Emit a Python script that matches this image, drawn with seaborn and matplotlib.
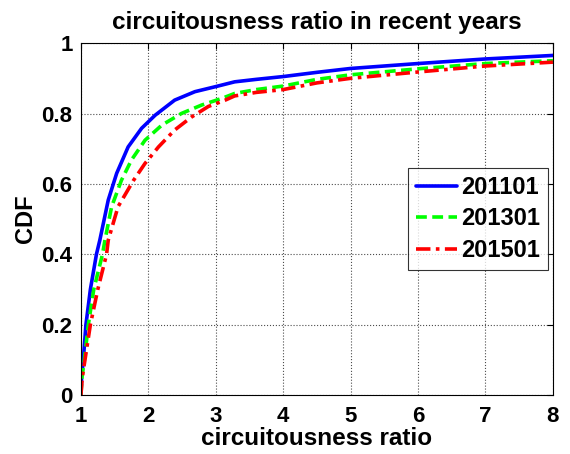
import matplotlib
matplotlib.use("Agg")
import matplotlib.pyplot as plt
import seaborn as sns
import pandas as pd

x_2011 = [1.0, 1.01, 1.035, 1.074, 1.14, 1.23, 1.28, 1.405, 1.53, 1.70, 1.90, 2.10, 2.39, 2.69, 2.99, 3.28, 3.6, 4.0, 4.5, 5.0, 6.0, 7.0, 8.0]
y_2011 = [0.0, 0.05, 0.1, 0.2, 0.3, 0.4, 0.44, 0.554, 0.63, 0.705, 0.758, 0.795, 0.838, 0.862, 0.876, 0.89, 0.897, 0.905, 0.917, 0.928, 0.942, 0.955, 0.965]

x_2013 = [1.0, 1.015, 1.05, 1.11, 1.19, 1.32, 1.356, 1.455, 1.60, 1.75, 1.95, 2.20, 2.49, 2.79, 3.09, 3.28, 3.6, 4.0, 4.5, 5.0, 6.0, 7.0, 8.0]
y_2013 = [0.0, 0.05, 0.1, 0.2, 0.3, 0.4, 0.44, 0.535, 0.61, 0.668, 0.724, 0.767, 0.80, 0.824, 0.843, 0.857, 0.868, 0.878, 0.897, 0.91, 0.927, 0.942, 0.95]

x_2015 = [1.0, 1.02, 1.06, 1.14, 1.25, 1.38, 1.405, 1.55, 1.78, 1.95, 2.15, 2.39, 2.64, 2.89, 3.14, 3.28, 3.6, 4.0, 4.5, 5.0, 6.0, 7.0, 8.0]
y_2015 = [0.0, 0.05, 0.1, 0.2, 0.3, 0.4, 0.44, 0.535, 0.61, 0.658, 0.705, 0.753, 0.79, 0.82, 0.838, 0.85, 0.86, 0.868, 0.887, 0.90, 0.918, 0.935, 0.946]

series_names = ["201101", "201301", "201501"]

df = pd.concat([
    pd.DataFrame({"x": x_2011, "y": y_2011, "year": series_names[0]}),
    pd.DataFrame({"x": x_2013, "y": y_2013, "year": series_names[1]}),
    pd.DataFrame({"x": x_2015, "y": y_2015, "year": series_names[2]}),
], ignore_index=True)

sns.set_style("white")
plt.rcParams["font.family"] = ["Liberation Sans", "DejaVu Sans"]
plt.rcParams["font.weight"] = "bold"
plt.rcParams["text.color"] = "black"
plt.rcParams["axes.labelcolor"] = "black"
plt.rcParams["xtick.color"] = "black"
plt.rcParams["ytick.color"] = "black"

fig = plt.figure(figsize=(5.7, 4.54), dpi=100)
ax = fig.add_axes([0.142, 0.130, 0.828, 0.775])

palette = {"201101": (0, 0, 1), "201301": (0, 1, 0), "201501": (1, 0, 0)}
dashes = {"201101": "", "201301": (3, 1.5), "201501": (4, 1.5, 1, 1.5)}
sns.lineplot(data=df, x="x", y="y", hue="year", style="year", palette=palette,
             dashes=dashes, linewidth=2.6, ax=ax, sort=False, estimator=None)

ax.set_xlim(1, 8)
ax.set_ylim(0, 1)
ax.set_xticks(range(1, 9))
ax.set_yticks([0, 0.2, 0.4, 0.6, 0.8, 1])
ax.set_yticklabels(["0", "0.2", "0.4", "0.6", "0.8", "1"])
ax.grid(True, linestyle=":", color="black", linewidth=0.8, alpha=0.7)
ax.tick_params(direction="in", top=True, right=True, labelsize=16, length=4,
               color="black", labelcolor="black")
ax.tick_params(axis="x", pad=8)
ax.tick_params(axis="y", pad=6)
for lbl in ax.get_xticklabels() + ax.get_yticklabels():
    lbl.set_fontweight("bold")
for s in ax.spines.values():
    s.set_color("black")
    s.set_linewidth(0.8)

ax.set_xlabel("circuitousness ratio", fontsize=17.5, fontweight="bold", labelpad=0, color="black")
ax.set_ylabel("CDF", fontsize=17, fontweight="bold", labelpad=3, color="black")
ax.set_title("circuitousness ratio in recent years", fontsize=17.5, fontweight="bold", pad=10, color="black")

leg = ax.legend(loc="upper right", bbox_to_anchor=(0.989, 0.645), fontsize=17,
                frameon=True, fancybox=False, edgecolor="black", handlelength=1.75,
                borderpad=0.33, labelspacing=0.36, handletextpad=0.17, borderaxespad=0)
leg.get_frame().set_linewidth(0.8)
for t in leg.get_texts():
    t.set_fontweight("bold")
    t.set_color("black")

fig.savefig("out.png", dpi=100)
